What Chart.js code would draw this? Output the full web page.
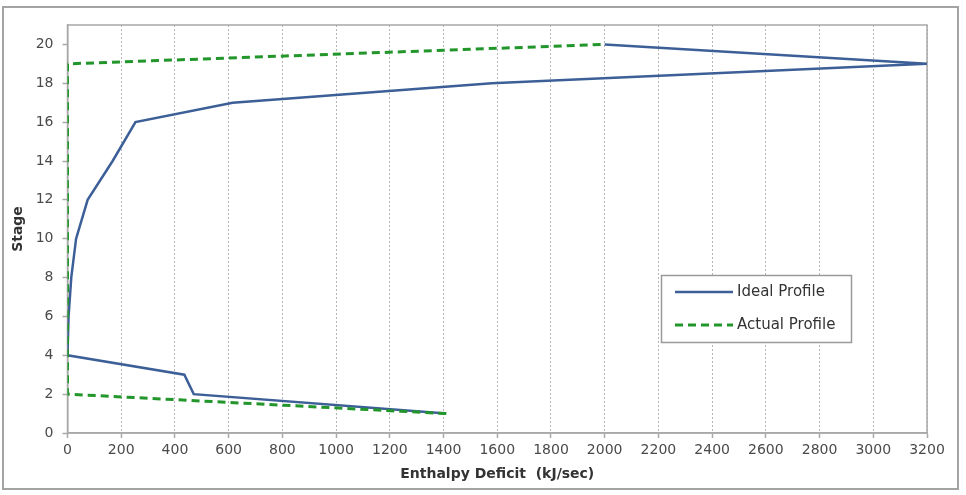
<!DOCTYPE html>
<html>
<head>
<meta charset="utf-8">
<script src="https://cdn.jsdelivr.net/npm/chart.js@4.4.1/dist/chart.umd.min.js"></script>
<style>
  html, body { margin: 0; padding: 0; background: #fff; }
  #wrap { position: relative; width: 966px; height: 495px; }
</style>
</head>
<body>
<div id="wrap"><canvas id="c" width="966" height="495"></canvas></div>
<script>
// ---- Data ----
const idealLabel = "Ideal Profile";
const idealX     = [1410, 470, 435, 0, 4, 14, 32, 75, 168, 253, 615, 1580, 3200, 2000];
const idealStage = [1,    2,   3,   4, 6, 8,  10, 12, 14,  16,  17,  18,   19,   20];

const actualLabel = "Actual Profile";
const actualX     = [1410, 0, 0,  2000];
const actualStage = [1,    2, 19, 20];

const xTitle = "Enthalpy Deficit  (kJ/sec)";
const yTitle = "Stage";
const xMin = 0, xMax = 3200, xStep = 200;
const yMin = 0, yMax = 21, yStep = 2;

const BLUE = "#3d5f97";
const GREEN = "#23962b";
const FONT = "'DejaVu Sans', 'Liberation Sans', Arial, sans-serif";

function pts(xs, ys) { return xs.map((x, i) => ({ x: x, y: ys[i] })); }

const framePlugin = {
  id: 'frame',
  beforeDraw(chart) {
    const ctx = chart.ctx;
    ctx.save();
    ctx.fillStyle = '#fff';
    ctx.fillRect(0, 0, chart.width, chart.height);
    ctx.strokeStyle = '#a3a3a3';
    ctx.lineWidth = 2;
    ctx.strokeRect(3, 7, 955, 482);
    ctx.restore();
  },
  beforeDatasetsDraw(chart) {
    const a = chart.chartArea, ctx = chart.ctx;
    ctx.save();
    ctx.strokeStyle = '#a8a8a8';
    ctx.lineWidth = 1.5;
    ctx.strokeRect(a.left, a.top, a.right - a.left, a.bottom - a.top);
    ctx.restore();
  },
  afterDraw(chart) {
    const ctx = chart.ctx;
    const bx = 661.5, by = 275.5, bw = 190, bh = 67;
    ctx.save();
    ctx.fillStyle = '#fff';
    ctx.fillRect(bx, by, bw, bh);
    ctx.strokeStyle = '#9a9a9a';
    ctx.lineWidth = 1.5;
    ctx.strokeRect(bx, by, bw, bh);
    const items = chart.data.datasets.slice().sort((p, q) => p.legendIndex - q.legendIndex);
    const rows = [292, 325];
    items.forEach((ds, i) => {
      const y = rows[i];
      ctx.beginPath();
      ctx.strokeStyle = ds.borderColor;
      ctx.lineWidth = ds.borderWidth;
      ctx.setLineDash(ds.borderDash || []);
      ctx.moveTo(675, y);
      ctx.lineTo(733, y);
      ctx.stroke();
      ctx.setLineDash([]);
      ctx.fillStyle = '#333';
      ctx.font = "15px " + FONT;
      ctx.textBaseline = 'middle';
      ctx.textAlign = 'left';
      ctx.fillText(ds.label, 737, y);
    });
    ctx.restore();
  }
};

new Chart(document.getElementById('c'), {
  type: 'scatter',
  data: {
    datasets: [
      {
        label: idealLabel, legendIndex: 0, order: 1,
        data: pts(idealX, idealStage),
        showLine: true, borderColor: BLUE, backgroundColor: BLUE,
        borderWidth: 2.5, pointRadius: 0, tension: 0
      },
      {
        label: actualLabel, legendIndex: 1, order: 0,
        data: pts(actualX, actualStage),
        showLine: true, borderColor: GREEN, backgroundColor: GREEN,
        borderWidth: 3, borderDash: [8, 5], pointRadius: 0, tension: 0
      }
    ]
  },
  options: {
    responsive: false,
    animation: false,
    events: [],
    layout: { padding: { top: 25, right: 39, left: 0, bottom: 0 } },
    plugins: { legend: { display: false }, tooltip: { enabled: false } },
    scales: {
      x: {
        type: 'linear', min: xMin, max: xMax,
        ticks: { stepSize: xStep, color: '#4a4a4a', font: { family: FONT, size: 14 }, padding: 4, maxRotation: 0, autoSkip: false,
                 callback: v => String(v) },
        grid: { color: '#b4b4b4', lineWidth: 1, drawTicks: true, tickLength: 5, tickColor: '#a8a8a8', tickWidth: 1.5 },
        border: { display: true, color: '#a8a8a8', width: 1.5, dash: [2, 2] },
        title: { display: true, text: xTitle, color: '#333', font: { family: FONT, size: 14, weight: 'bold' }, padding: { top: 4, bottom: 12 } },
        afterFit(scale) { scale.height = 62; }
      },
      y: {
        type: 'linear', min: yMin, max: yMax,
        ticks: { stepSize: yStep, color: '#4a4a4a', font: { family: FONT, size: 14 }, padding: 9, callback: v => String(v) },
        afterBuildTicks(scale) { scale.ticks = scale.ticks.filter(t => t.value % yStep === 0); },
        grid: { drawOnChartArea: false, drawTicks: true, tickLength: 5, tickColor: '#a8a8a8', tickWidth: 1.5 },
        border: { display: true, color: '#a8a8a8', width: 1.5 },
        title: { display: true, text: yTitle, color: '#333', font: { family: FONT, size: 14, weight: 'bold' }, padding: { top: 10, bottom: 0 } },
        afterFit(scale) { scale.width = 67.5; }
      }
    }
  },
  plugins: [framePlugin]
});
</script>
</body>
</html>
